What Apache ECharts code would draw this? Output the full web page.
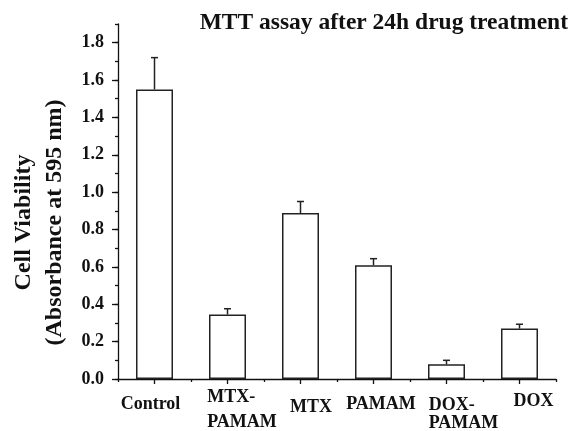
<!DOCTYPE html>
<html>
<head>
<meta charset="utf-8">
<script src="https://cdn.jsdelivr.net/npm/echarts@6/dist/echarts.min.js"></script>
<style>
html,body{margin:0;padding:0;background:#fff;}
#chart{width:583px;height:431px;}
</style>
</head>
<body>
<div id="chart"></div>
<script>
var categories = ['Control', 'MTX-\nPAMAM', 'MTX', 'PAMAM', 'DOX-\nPAMAM', 'DOX'];
var means = [1.55, 0.345, 0.888, 0.609, 0.079, 0.27];
var errors = [0.17, 0.031, 0.062, 0.035, 0.021, 0.023];
var yTicks = [0, 0.2, 0.4, 0.6, 0.8, 1.0, 1.2, 1.4, 1.6, 1.8];

var FONT = '"Liberation Serif", "Times New Roman", serif';
var INK = '#111';

// label placement styles (per category position): spacer height, left padding, right padding, line heights
var labelLayout = [
  {sp: 10, pl: 0, pr: 8, lh: [18]},
  {sp: 3, pl: 29, pr: 0, lh: [18, 32], left: true},
  {sp: 13, pl: 21, pr: 0, lh: [18]},
  {sp: 10, pl: 15, pr: 0, lh: [18]},
  {sp: 11, pl: 34, pr: 0, lh: [18, 18], left: true},
  {sp: 7.5, pl: 28, pr: 0, lh: [18]}
];

var rich = {};
labelLayout.forEach(function (L, i) {
  rich['g' + i] = {fontSize: 1, lineHeight: L.sp};
  L.lh.forEach(function (h, j) {
    rich['t' + i + '_' + j] = {
      fontFamily: FONT, fontWeight: 'bold', fontSize: 18, color: INK,
      lineHeight: h, padding: [0, L.pr, 0, L.pl], align: L.left ? 'left' : 'center'
    };
  });
});

var chart = echarts.init(document.getElementById('chart'), null, {renderer: 'canvas'});

var errData = means.map(function (m, i) { return [i, m, m + errors[i]]; });

chart.setOption({
  animation: false,
  backgroundColor: '#fff',
  title: {
    text: 'MTT assay after 24h drug treatment',
    right: 10,
    top: 6,
    textStyle: {fontFamily: FONT, fontWeight: 'bold', fontSize: 23.5, color: INK}
  },
  grid: {left: 118, right: 27, top: 24, bottom: 52, containLabel: false, outerBoundsMode: 'none'},
  xAxis: [{
    type: 'category',
    data: categories,
    axisLine: {show: true, lineStyle: {color: INK, width: 1.3}},
    axisTick: {show: true, alignWithLabel: true, length: 5, lineStyle: {color: INK, width: 1.3}},
    axisLabel: {
      interval: 0, margin: 6, verticalAlign: 'top',
      fontFamily: FONT, fontWeight: 'bold', fontSize: 18, color: INK,
      formatter: function (value, index) {
        var lines = value.split('\n');
        var out = '{g' + index + '|\u00a0}';
        lines.forEach(function (ln, j) {
          out += '\n{t' + index + '_' + j + '|' + ln + '}';
        });
        return out;
      },
      rich: rich
    },
    splitLine: {show: false}
  }, {
    type: 'category',
    data: categories,
    position: 'bottom',
    axisLine: {show: false},
    axisTick: {show: true, alignWithLabel: false, length: 3, lineStyle: {color: INK, width: 1.3}},
    axisLabel: {show: false},
    splitLine: {show: false}
  }],
  yAxis: [{
    type: 'value',
    min: 0, max: 1.9, interval: 0.2,
    name: 'Cell Viability\n(Absorbance at 595 nm)',
    nameLocation: 'middle',
    nameRotate: 90,
    nameGap: 47,
    nameTextStyle: {fontFamily: FONT, fontWeight: 'bold', fontSize: 24, lineHeight: 31, color: INK, padding: [0, 42, 0, 0]},
    axisLine: {show: true, lineStyle: {color: INK, width: 1.3}},
    axisTick: {show: true, customValues: yTicks, length: 6, lineStyle: {color: INK, width: 1.3}},
    axisLabel: {
      customValues: yTicks, margin: 14,
      formatter: function (v) { return v.toFixed(1); },
      fontFamily: FONT, fontWeight: 'bold', fontSize: 18, color: INK
    },
    splitLine: {show: false}
  }, {
    type: 'value',
    min: 0, max: 1.9, interval: 0.1,
    position: 'left',
    axisLine: {show: false},
    axisTick: {show: true, length: 3, lineStyle: {color: INK, width: 1.3}},
    axisLabel: {show: false},
    splitLine: {show: false}
  }],
  series: [{
    type: 'bar',
    data: means,
    barWidth: 37,
    xAxisIndex: 0, yAxisIndex: 0,
    itemStyle: {color: '#fff', borderColor: '#222', borderWidth: 1.5},
    z: 2
  }, {
    type: 'custom',
    xAxisIndex: 0, yAxisIndex: 0,
    data: errData,
    z: 3,
    renderItem: function (params, api) {
      var x = api.value(0);
      var lo = api.coord([x, api.value(1)]);
      var hi = api.coord([x, api.value(2)]);
      var cap = 3.5;
      return {
        type: 'group',
        children: [{
          type: 'line',
          shape: {x1: lo[0], y1: lo[1], x2: hi[0], y2: hi[1]},
          style: {stroke: '#222', lineWidth: 1.5}
        }, {
          type: 'line',
          shape: {x1: hi[0] - cap, y1: hi[1], x2: hi[0] + cap, y2: hi[1]},
          style: {stroke: '#222', lineWidth: 1.5}
        }]
      };
    }
  }]
});
</script>
</body>
</html>
